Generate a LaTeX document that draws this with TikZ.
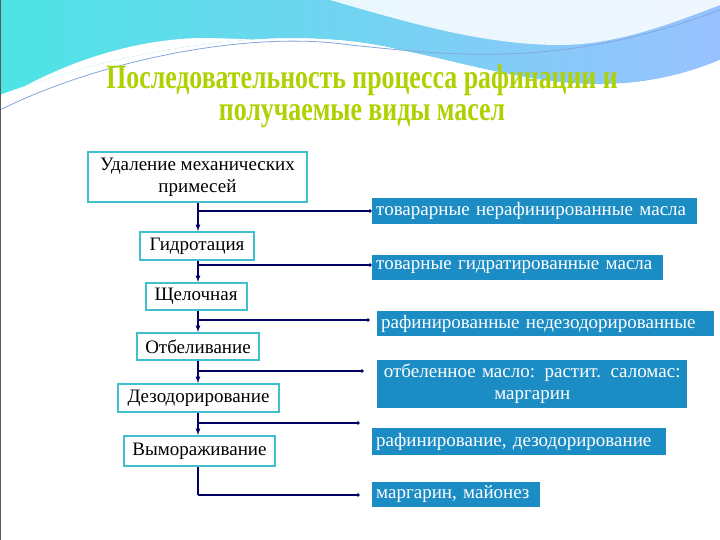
\documentclass[tikz,border=0pt]{standalone}
\usepackage{fontspec}
\setmainfont{Liberation Serif}
\definecolor{rblue}{HTML}{1C8CC4}
\definecolor{ltl}{HTML}{3FC0CC}
\begin{document}
\begin{tikzpicture}[x=1pt,y=-1pt,
 lbox/.style={draw=ltl,line width=2pt,fill=white,inner sep=2pt,font=\fontsize{19}{22}\selectfont,align=center},
 rbox/.style={fill=rblue,text=white,inner sep=4pt,font=\fontsize{19}{22}\selectfont,align=left,anchor=west,text width=#1},
 conn/.style={draw=blue!40!black,line width=1.2pt},
 dot/.style={circle,fill=blue!40!black,inner sep=1.3pt}]
\useasboundingbox (0,0) rectangle (720,540);
\fill[white] (0,0) rectangle (720,540);
% header wave
\shade[left color=cyan!70!teal!70!white,right color=cyan!40!blue!40!white] (0,0) -- (720,0) -- (720,60) .. controls (600,110) and (500,70) .. (400,50) .. controls (300,25) and (150,40) .. (0,95) -- cycle;
\fill[white] (0,95) .. controls (150,40) and (300,25) .. (400,50) .. controls (500,70) and (600,110) .. (720,60) -- (720,75) .. controls (600,120) and (450,40) .. (200,38) .. controls (120,40) and (50,70) .. (0,100) -- cycle;
\draw[cyan!50!blue!50,line width=0.8pt] (0,110) .. controls (100,60) and (250,30) .. (350,45) .. controls (450,55) and (560,70) .. (720,10);
\fill[white,opacity=0.85] (330,0) .. controls (400,20) and (480,45) .. (560,45) .. controls (620,45) and (680,20) .. (720,5) -- (720,0) -- cycle;
\draw[gray!70!black,line width=1pt] (0,0) rectangle (720,540);
% title
\node[font=\bfseries\fontsize{34}{32}\selectfont,text=lime!60!olive!90!yellow,align=center] (title) at (362,96) {\scalebox{0.76}[1]{Последовательность процесса рафинации и}\\\scalebox{0.76}[1]{получаемые виды масел}};
% left boxes
\node[lbox,minimum width=219,minimum height=50] (a) at (197.5,177) {Удаление механических\\примесей};
\node[lbox,minimum width=114,minimum height=28] (b) at (197,246) {Гидротация};
\node[lbox,minimum width=101,minimum height=27] (c) at (196,296.5) {Щелочная};
\node[lbox,minimum width=122,minimum height=27] (d) at (198,346.5) {Отбеливание};
\node[lbox,minimum width=161,minimum height=28] (e) at (198.5,398) {Дезодорирование};
\node[lbox,minimum width=151,minimum height=30] (f) at (199.5,451) {Вымораживание};
% right boxes
\node[rbox=317,minimum height=24] (r1) at (372,211) {товарарные нерафинированные масла};
\node[rbox=283,minimum height=25] (r2) at (372,267.5) {товарные гидратированные масла};
\node[rbox=329,minimum height=25] (r3) at (377,323.5) {рафинированные недезодорированные};
\node[rbox=302,minimum height=48,align=center] (r4) at (377,384) {отбеленное масло: растит. саломас:\\маргарин};
\node[rbox=286,minimum height=27] (r5) at (372,441.5) {рафинирование, дезодорирование};
\node[rbox=160,minimum height=23] (r6) at (372,494.5) {маргарин, майонез};
% trunk
\coordinate (j1) at (198,211); \coordinate (j2) at (198,265);
\coordinate (j3) at (198,320); \coordinate (j4) at (198,371);
\coordinate (j5) at (198,423); \coordinate (j6) at (198,495);
\draw[conn,-latex] (a.south -| j1) -- (b.north -| j1);
\draw[conn,-latex] (b.south -| j1) -- (c.north -| j1);
\draw[conn,-latex] (c.south -| j1) -- (d.north -| j1);
\draw[conn,-latex] (d.south -| j1) -- (e.north -| j1);
\draw[conn,-latex] (e.south -| j1) -- (f.north -| j1);
\draw[conn] (f.south -| j1) -- (j6);
\foreach \j/\r/\xe in {j1/r1/370,j2/r2/370,j3/r3/368,j4/r4/362,j5/r5/358,j6/r6/358}{
  \draw[conn] (\j) -- (\xe,0 |- \j) node[dot]{};
}
\end{tikzpicture}
\end{document}
